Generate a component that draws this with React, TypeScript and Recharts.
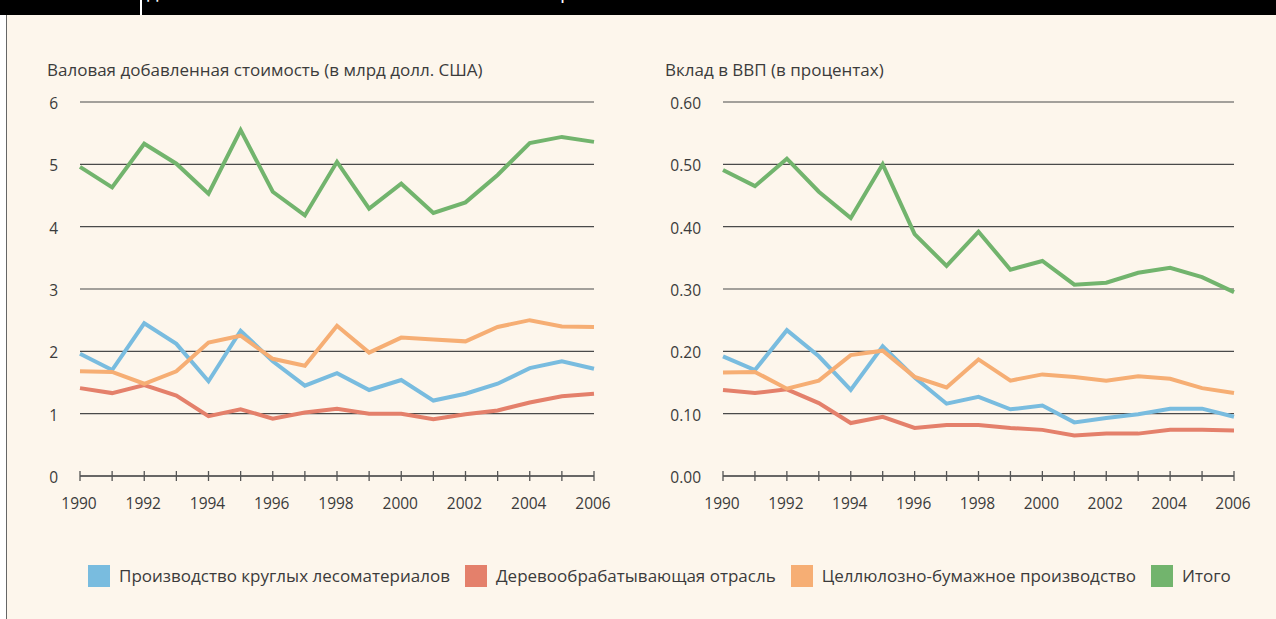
import { LineChart, Line, XAxis, YAxis, CartesianGrid } from "recharts";

// years on the x axis
const years = [
  1990, 1991, 1992, 1993, 1994, 1995, 1996, 1997, 1998, 1999, 2000, 2001,
  2002, 2003, 2004, 2005, 2006,
];

const seriesNames = [
  "Производство круглых лесоматериалов",
  "Деревообрабатывающая отрасль",
  "Целлюлозно-бумажное производство",
  "Итого",
];
const seriesColors = ["#79bcdf", "#e4806b", "#f6ae74", "#72b46d"];

// gross value added, bn USD
const gvaRoundwood = [1.96, 1.7, 2.45, 2.12, 1.52, 2.33, 1.84, 1.45, 1.65, 1.38, 1.54, 1.21, 1.32, 1.48, 1.73, 1.84, 1.72];
const gvaWood = [1.41, 1.33, 1.46, 1.29, 0.96, 1.07, 0.92, 1.02, 1.08, 1.0, 1.0, 0.91, 0.99, 1.05, 1.18, 1.28, 1.32];
const gvaPulp = [1.68, 1.67, 1.48, 1.68, 2.14, 2.25, 1.88, 1.77, 2.41, 1.98, 2.22, 2.19, 2.16, 2.39, 2.5, 2.4, 2.39];
const gvaTotal = [4.96, 4.63, 5.33, 5.01, 4.53, 5.55, 4.56, 4.18, 5.04, 4.29, 4.69, 4.22, 4.39, 4.83, 5.34, 5.44, 5.36];

// share of GDP, percent
const gdpRoundwood = [0.192, 0.17, 0.234, 0.192, 0.138, 0.208, 0.158, 0.116, 0.127, 0.107, 0.113, 0.086, 0.093, 0.099, 0.108, 0.108, 0.095];
const gdpWood = [0.138, 0.133, 0.139, 0.117, 0.085, 0.095, 0.077, 0.082, 0.082, 0.077, 0.074, 0.065, 0.068, 0.068, 0.074, 0.074, 0.073];
const gdpPulp = [0.166, 0.167, 0.14, 0.153, 0.194, 0.201, 0.159, 0.142, 0.187, 0.153, 0.163, 0.159, 0.153, 0.16, 0.156, 0.141, 0.133];
const gdpTotal = [0.491, 0.465, 0.509, 0.456, 0.414, 0.5, 0.388, 0.337, 0.392, 0.331, 0.345, 0.307, 0.31, 0.326, 0.334, 0.319, 0.295];

const gvaTicks = [0, 1, 2, 3, 4, 5, 6];
const gdpTicks = [0, 0.1, 0.2, 0.3, 0.4, 0.5, 0.6];

const leftTitle = "Валовая добавленная стоимость (в млрд долл. США)";
const rightTitle = "Вклад в ВВП (в процентах)";

const FONT = '"Open Sans", sans-serif';
const TEXT = "#3b3b3b";
const BG = "#fdf6ec";
const tickFont = { fontFamily: FONT };

function buildRows(cols: number[][]) {
  return years.map((year, i) => {
    const row: Record<string, number> = { year };
    cols.forEach((c, k) => (row["s" + k] = c[i]));
    return row;
  });
}

const gvaRows = buildRows([gvaRoundwood, gvaWood, gvaPulp, gvaTotal]);
const gdpRows = buildRows([gdpRoundwood, gdpWood, gdpPulp, gdpTotal]);

const YearTick = (props: any) => {
  const { x, y, payload } = props;
  return (
    <g>
      <line x1={x} x2={x} y1={y - 5} y2={y + 5} stroke="#555" strokeWidth={1.3} />
      {payload.value % 2 === 0 && (
        <text
          x={x - 1}
          y={y + 27}
          textAnchor="middle"
          dominantBaseline="central"
          fill={TEXT}
          fontSize={15.5}
          style={tickFont}
        >
          {payload.value}
        </text>
      )}
    </g>
  );
};

const makeValueTick = (digits: number) => (props: any) => {
  const { x, y, payload } = props;
  return (
    <text
      x={x - 22}
      y={y + 1}
      textAnchor="end"
      dominantBaseline="central"
      fill={TEXT}
      fontSize={15.5}
      style={tickFont}
    >
      {Number(payload.value).toFixed(digits)}
    </text>
  );
};

function Panel({
  rows,
  ticks,
  digits,
  left,
  marginLeft,
  marginRight,
}: {
  rows: Record<string, number>[];
  ticks: number[];
  digits: number;
  left: number;
  marginLeft: number;
  marginRight: number;
}) {
  return (
    <div style={{ position: "absolute", left, top: 0 }}>
      <LineChart
        width={638}
        height={540}
        data={rows}
        margin={{ top: 102, right: marginRight, bottom: 24, left: marginLeft }}
      >
        <CartesianGrid vertical={false} stroke="#4a4a4a" strokeWidth={1.2} />
        <XAxis
          dataKey="year"
          type="number"
          domain={[1990, 2006]}
          ticks={years}
          interval={0}
          height={40}
          tickSize={0}
          tickMargin={0}
          tickLine={false}
          axisLine={{ stroke: "#555", strokeWidth: 1.3 }}
          tick={<YearTick />}
        />
        <YAxis
          type="number"
          domain={[ticks[0], ticks[ticks.length - 1]]}
          ticks={ticks}
          interval={0}
          width={40}
          tickSize={0}
          tickMargin={0}
          tickLine={false}
          axisLine={false}
          tick={makeValueTick(digits)}
        />
        {seriesNames.map((name, k) => (
          <Line
            key={name}
            dataKey={"s" + k}
            name={name}
            stroke={seriesColors[k]}
            strokeWidth={4}
            dot={false}
            activeDot={false}
            isAnimationActive={false}
          />
        ))}
      </LineChart>
    </div>
  );
}

export default function App() {
  return (
    <div
      style={{
        position: "absolute",
        left: 0,
        top: 0,
        width: 1276,
        height: 619,
        background: "#fff",
        overflow: "hidden",
        fontFamily: FONT,
        color: TEXT,
      }}
    >
      {/* cream panel with its left rule */}
      <div
        style={{
          position: "absolute",
          left: 6,
          top: 0,
          width: 1270,
          height: 619,
          background: BG,
          borderLeft: "1.5px solid #666",
        }}
      />
      {/* black header strip, the cut-off heading shows only its descenders */}
      <div
        style={{
          position: "absolute",
          left: 0,
          top: 0,
          width: 1276,
          height: 15,
          background: "#000",
          overflow: "hidden",
        }}
      >
        <div style={{ position: "absolute", left: 140, top: 0, width: 2, height: 15, background: "#fff" }} />
        <div
          style={{
            position: "absolute",
            left: 147,
            top: -21,
            color: "#fff",
            fontSize: 20,
            lineHeight: "24px",
            whiteSpace: "nowrap",
          }}
        >
          д
        </div>
        <div
          style={{
            position: "absolute",
            left: 560,
            top: -21,
            color: "#fff",
            fontSize: 20,
            lineHeight: "24px",
            whiteSpace: "nowrap",
          }}
        >
          р
        </div>
      </div>

      <div style={{ position: "absolute", left: 47, top: 58, fontSize: 17, lineHeight: "24px", whiteSpace: "nowrap" }}>
        {leftTitle}
      </div>
      <div style={{ position: "absolute", left: 665, top: 58, fontSize: 17, lineHeight: "24px", whiteSpace: "nowrap" }}>
        {rightTitle}
      </div>

      <Panel rows={gvaRows} ticks={gvaTicks} digits={0} left={0} marginLeft={40} marginRight={44} />
      <Panel rows={gdpRows} ticks={gdpTicks} digits={2} left={640} marginLeft={43} marginRight={44} />

      {/* legend */}
      <div
        style={{
          position: "absolute",
          left: 88,
          top: 564,
          display: "flex",
          alignItems: "center",
          fontSize: 17,
          whiteSpace: "nowrap",
        }}
      >
        {seriesNames.map((name, k) => (
          <div key={name} style={{ display: "flex", alignItems: "center", marginRight: 15 }}>
            <div style={{ width: 22, height: 22, background: seriesColors[k], marginRight: 9 }} />
            <span>{name}</span>
          </div>
        ))}
      </div>
    </div>
  );
}
